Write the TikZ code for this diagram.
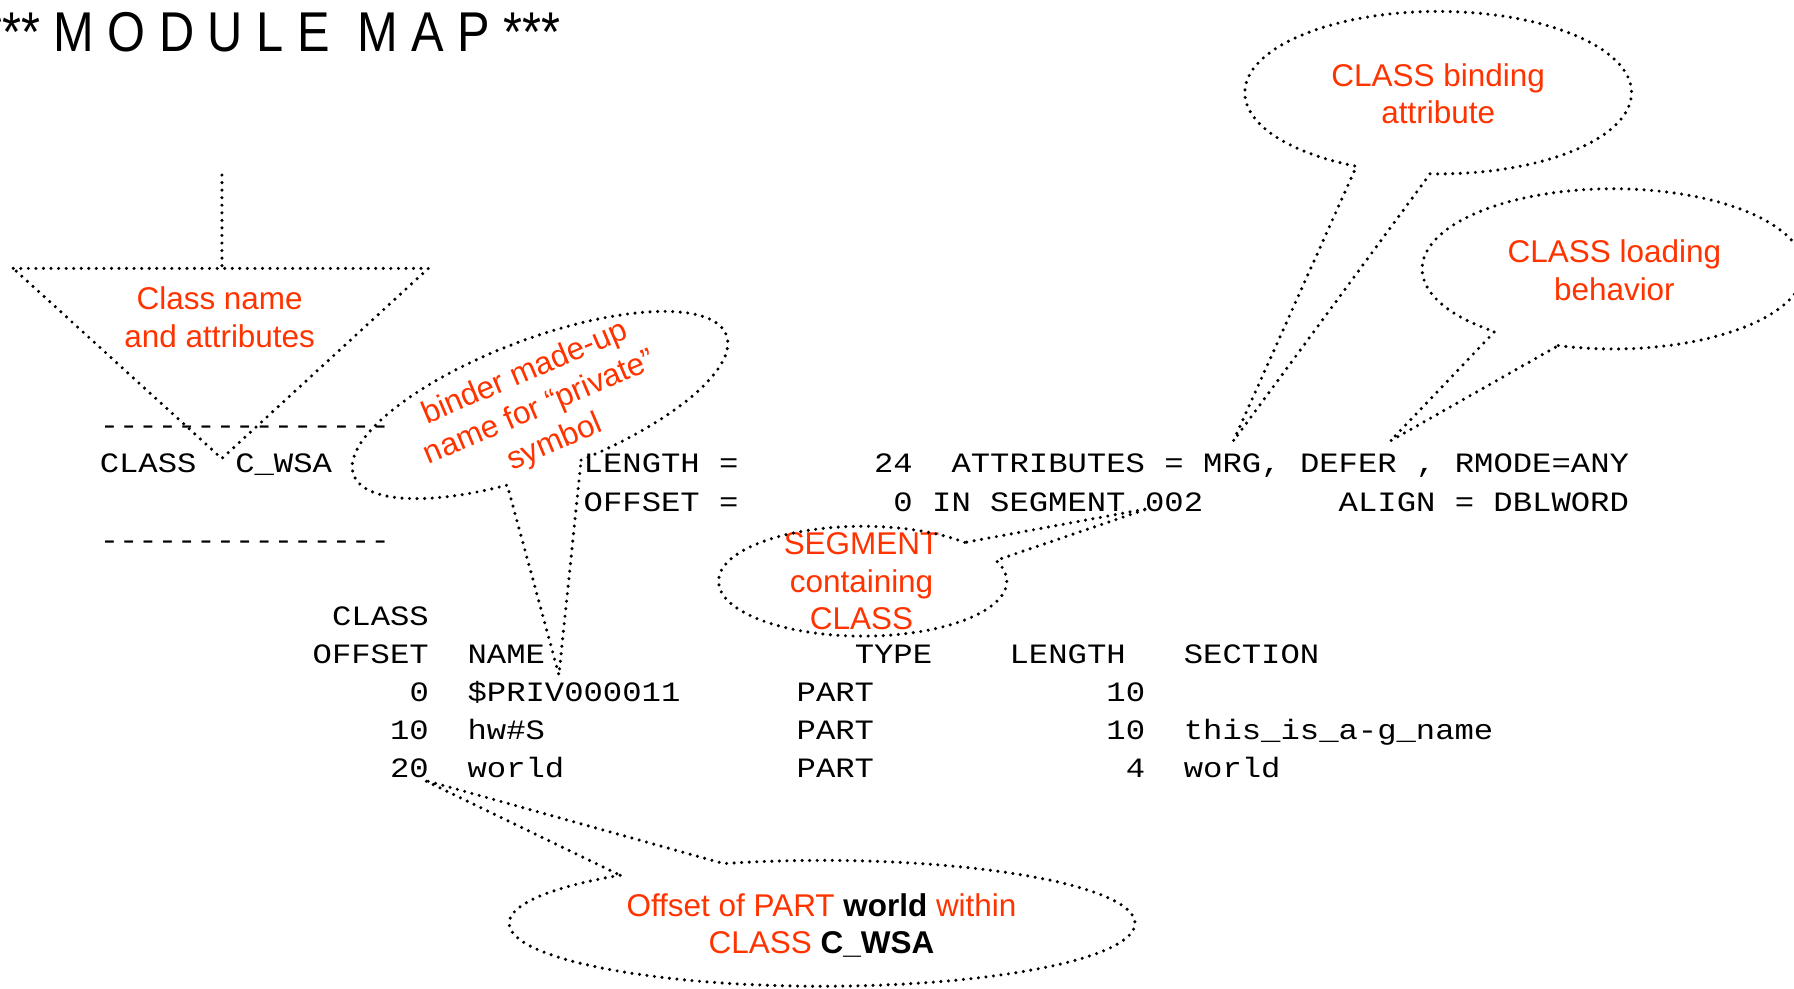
\documentclass[tikz,border=0pt]{standalone}
\usepackage{fontspec}
\setmainfont{Liberation Sans}
\setmonofont{Liberation Mono}[FakeStretch=1.15]
\newfontfamily\titlefont{Liberation Sans}[FakeStretch=0.87]
\definecolor{noteRed}{RGB}{255,51,0}
\tikzset{
  listing/.style={font=\fontsize{24.5}{33.33}\selectfont\ttfamily, anchor=base west, inner sep=0pt},
  note/.style={text=noteRed, font=\fontsize{27.5}{33}\selectfont, align=center, inner sep=0pt},
  dotline/.style={line width=3pt, line cap=round, dash pattern=on 0pt off 6.6pt},
}
\begin{document}
\begin{tikzpicture}[x=1pt,y=1pt]
\useasboundingbox (0,0) rectangle (1568,864);
\node[anchor=base west, inner sep=0pt, font=\titlefont\fontsize{49}{49}\selectfont] (title) at (-15,819) {*** M O D U L E\ \ M A P ***};

% the listing, one column = one character
\begin{scope}[shift={(87,484)}, x=16.92pt, y=-33.33pt]
\node[listing] (dashA) at (0,0) {---------------};
\node[listing] (cls) at (0,1) {CLASS};
\node[listing] (cwsa) at (7,1) {C\_WSA};
\node[listing] (len) at (25,1) {LENGTH =};
\node[listing] (lenval) at (40,1) {24};
\node[listing] (attr) at (44,1) {ATTRIBUTES =};
\node[listing] (mrg) at (57,1) {MRG,};
\node[listing] (defer) at (62,1) {DEFER};
\node[listing] (rmode) at (68,1) {, RMODE=ANY};
\node[listing] (off) at (25,2) {OFFSET =};
\node[listing] (offval) at (41,2) {0 IN SEGMENT};
\node[listing] (seg) at (54,2) {002};
\node[listing] (align) at (64,2) {ALIGN = DBLWORD};
\node[listing] (dashB) at (0,3) {---------------};
\node[listing] (hdcls) at (12,5) {CLASS};
\node[listing] (hdoff) at (11,6) {OFFSET};
\node[listing] (hdname) at (19,6) {NAME};
\node[listing] (hdtype) at (39,6) {TYPE};
\node[listing] (hdlen) at (47,6) {LENGTH};
\node[listing] (hdsec) at (56,6) {SECTION};
\node[listing] (off0) at (16,7) {0};
\node[listing] (name0) at (19,7) {\$PRIV000011};
\node[listing] (type0) at (36,7) {PART};
\node[listing] (len0) at (52,7) {10};
\node[listing] (off10) at (15,8) {10};
\node[listing] (name10) at (19,8) {hw\#S};
\node[listing] (type10) at (36,8) {PART};
\node[listing] (len10) at (52,8) {10};
\node[listing] (sec10) at (56,8) {this\_is\_a-g\_name};
\node[listing] (off20) at (15,9) {20};
\node[listing] (name20) at (19,9) {world};
\node[listing] (type20) at (36,9) {PART};
\node[listing] (len20) at (53,9) {4};
\node[listing] (sec20) at (56,9) {world};
\end{scope}

% where the callouts point
\coordinate (tipClass) at ([shift={(-11.6,12.5)}]cwsa.base west);
\coordinate (tipBinder) at ([shift={(12,-10)}]hdname.base east);
\coordinate (tipBind) at ([shift={(26.6,28)}]mrg.base west);
\coordinate (tipLoad) at ([shift={(-5.6,28)}]defer.base east);
\coordinate (tipSeg) at ([shift={(3,2.2)}]seg.base west);
\coordinate (tipOff) at ([shift={(-4.6,-1.8)}]off20.base east);

% class name and attributes
\node[note] (clsnote) at (192,586.5) {Class name\\and attributes};
\draw[dotline] (11.6,629.4) -- (374.4,629.4) -- (tipClass) -- cycle;
\draw[dotline] (194,711) -- (194,629.4);

% binder name
\node[note, rotate=23] (binder) at (472,507) {binder made-up\\name for “private”\\symbol};
\begin{scope}[shift={(472,510)}, rotate=20.6]
\draw[dotline] (275.5:174pt and 58pt) arc[start angle=275.5, end angle=612.8, x radius=174pt, y radius=58pt] -- (tipBinder) -- cycle;
\end{scope}

% binding attribute
\node[note] (bindnote) at (1257,782) {CLASS binding\\attribute};
\begin{scope}[shift={(1257,783)}]
\draw[dotline] (267.6:169pt and 71pt) arc[start angle=267.6, end angle=605, x radius=169pt, y radius=71pt] -- (tipBind) -- cycle;
\end{scope}

% loading behavior
\node[note] (loadnote) at (1411,628) {CLASS loading\\behavior};
\begin{scope}[shift={(1410,629)}]
\draw[dotline] (253.3:167pt and 70pt) arc[start angle=253.3, end angle=591.6, x radius=167pt, y radius=70pt] -- (tipLoad) -- cycle;
\end{scope}

% segment
\node[note] (segnote) at (753,356) {SEGMENT\\containing\\CLASS};
\begin{scope}[shift={(754,356)}]
\draw[dotline] (44.9:126pt and 48pt) arc[start angle=44.9, end angle=382.3, x radius=126pt, y radius=48pt] -- (tipSeg) -- cycle;
\end{scope}

% offset of part
\node[note] (offnote) at (718,55) {Offset of PART \textcolor{black}{\textbf{world}} within\\CLASS \textcolor{black}{\textbf{C\_WSA}}};
\begin{scope}[shift={(718.5,57)}]
\draw[dotline] (130.2:273.5pt and 55pt) arc[start angle=130.2, end angle=468.3, x radius=273.5pt, y radius=55pt] -- (tipOff) -- cycle;
\end{scope}
\end{tikzpicture}
\end{document}
